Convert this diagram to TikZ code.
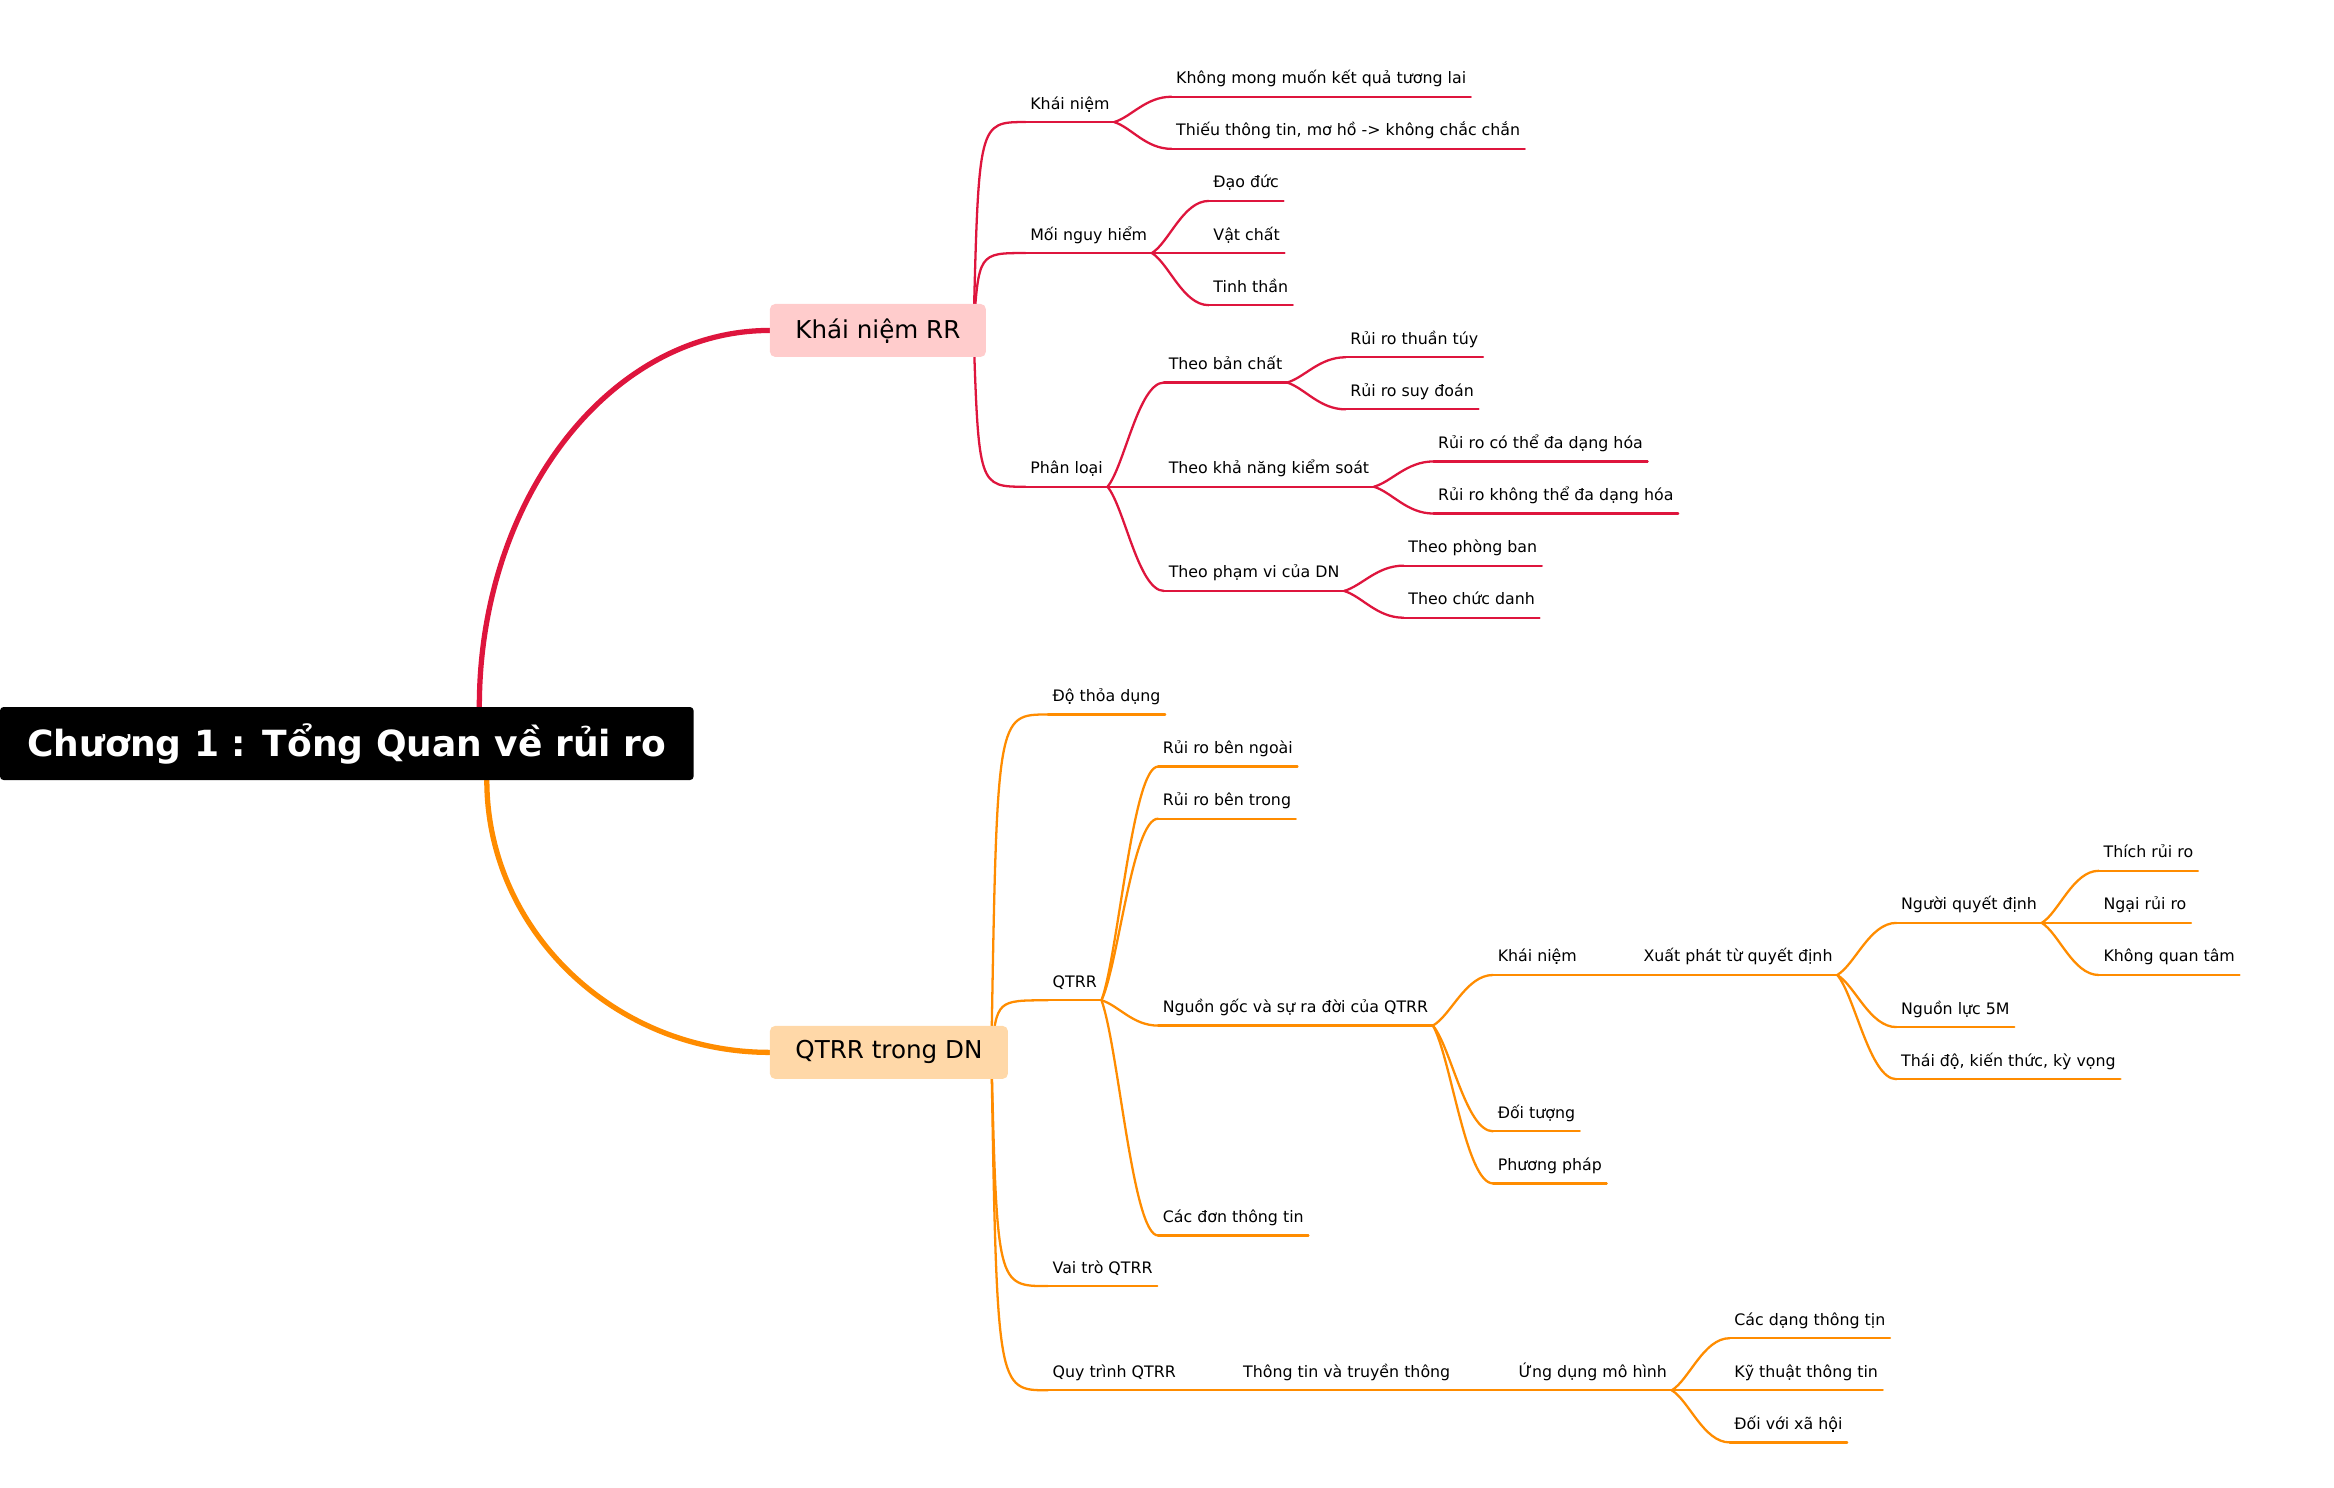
\documentclass[tikz,border=0pt]{standalone}
\usepackage{fontspec}
\setmainfont{DejaVu Sans}
\usetikzlibrary{calc, backgrounds}

\definecolor{rrred}{RGB}{222,21,61}
\definecolor{qtorange}{RGB}{255,140,0}
\definecolor{rrfill}{RGB}{255,204,204}
\definecolor{qtfill}{RGB}{255,216,168}

\begin{document}
\begin{tikzpicture}[
  x=0.02977cm, y=-0.02977cm,
  % central topic
  rootbox/.style={rectangle, rounded corners=2pt, fill=black, text=white,
                  font=\fontsize{20.5}{24}\selectfont\bfseries,
                  minimum width=13.87cm, minimum height=1.46cm},
  % main branches (filled boxes)
  mainbox/.style={rectangle, rounded corners=3pt, fill=#1, inner xsep=14.5pt,
                  minimum height=1.06cm, font=\fontsize{14}{17}\selectfont,
                  anchor=west},
  % sub topics: text sitting on an underline
  topic/.style={anchor=south west, inner xsep=2.5pt, inner ysep=4.7pt,
                text height=9pt, text depth=2.5pt,
                font=\fontsize{9}{11}\selectfont,
                append after command={(\tikzlastnode.south west)
                  edge[draw=#1, line width=1.3pt, line cap=round]
                  (\tikzlastnode.south east)}},
  rt/.style={topic=rrred},
  ot/.style={topic=qtorange},
  trunk/.style={line width=3pt, line cap=round},
  twig/.style={line width=1.3pt, line cap=round},
  % from a box: rises straight, then turns flat
  knee/.style={to path={let \p1=(\tikztostart), \p2=(\tikztotarget) in
               .. controls ({\x1+#1*(\x2-\x1)},\y2) .. (\tikztotarget)}},
  knee/.default=0.1,
  % from a junction: soft S into the underline
  scurve/.style={to path={let \p1=(\tikztostart), \p2=(\tikztotarget) in
               .. controls ({\x1+0.3*(\x2-\x1)},{\y1+0.2*(\y2-\y1)})
               and ({\x2-0.45*(\x2-\x1)},\y2) .. (\tikztotarget)}}
]
\useasboundingbox (0,0) rectangle (1568,999);

%% ── Central topic ───────────────────────────────────────────
\node[rootbox] (root) at (233,499.5) {Chương 1 : Tổng Quan về rủi ro};

%% ── Main branches ───────────────────────────────────────────
\node[mainbox=rrfill] (rr) at (517,222) {Khái niệm RR};
\node[mainbox=qtfill] (qt) at (517,707) {QTRR trong DN};
\coordinate (rr-o) at (654,222);
\coordinate (qt-o) at (666,707);

%% ── Khái niệm RR ────────────────────────────────────────────
\node[rt] (kn)  at (689,82)  {Khái niệm};
\node[rt] (kn1) at (787,65)  {Không mong muốn kết quả tương lai};
\node[rt] (kn2) at (787,100) {Thiếu thông tin, mơ hồ -> không chắc chắn};

\node[rt] (mnh) at (689,170) {Mối nguy hiểm};
\node[rt] (dd)  at (812,135) {Đạo đức};
\node[rt] (vc)  at (812,170) {Vật chất};
\node[rt] (tt)  at (812,205) {Tinh thần};

\node[rt] (pl)  at (689,327) {Phân loại};
\node[rt] (tbc) at (782,257) {Theo bản chất};
\node[rt] (rtt) at (904,240) {Rủi ro thuần túy};
\node[rt] (rsd) at (904,275) {Rủi ro suy đoán};
\node[rt] (tkn) at (782,327) {Theo khả năng kiểm soát};
\node[rt] (rcd) at (963,310) {Rủi ro có thể đa dạng hóa};
\node[rt] (rkd) at (963,345) {Rủi ro không thể đa dạng hóa};
\node[rt] (tpv) at (782,397) {Theo phạm vi của DN};
\node[rt] (tpb) at (943,380) {Theo phòng ban};
\node[rt] (tcd) at (943,415) {Theo chức danh};

%% ── QTRR trong DN ───────────────────────────────────────────
\node[ot] (dtd)  at (704,480)  {Độ thỏa dụng};
\node[ot] (qtrr) at (704,672)  {QTRR};
\node[ot] (rbn)  at (778,515)  {Rủi ro bên ngoài};
\node[ot] (rbt)  at (778,550)  {Rủi ro bên trong};
\node[ot] (ngsr) at (778,689)  {Nguồn gốc và sự ra đời của QTRR};
\node[ot] (kn3)  at (1003,655) {Khái niệm};
\node[ot] (xp)   at (1101,655) {Xuất phát từ quyết định};
\node[ot] (nqd)  at (1274,620) {Người quyết định};
\node[ot] (thr)  at (1410,585) {Thích rủi ro};
\node[ot] (ngr)  at (1410,620) {Ngại rủi ro};
\node[ot] (kqt)  at (1410,655) {Không quan tâm};
\node[ot] (nl)   at (1274,690) {Nguồn lực 5M};
\node[ot] (tdo)  at (1274,725) {Thái độ, kiến thức, kỳ vọng};
\node[ot] (dtg)  at (1003,760) {Đối tượng};
\node[ot] (ppp)  at (1003,795) {Phương pháp};
\node[ot] (cdt)  at (778,830)  {Các đơn thông tin};
\node[ot] (vtr)  at (704,864)  {Vai trò QTRR};
\node[ot] (qtr)  at (704,934)  {Quy trình QTRR};
\node[ot] (ttt)  at (832,934)  {Thông tin và truyền thông};
\node[ot] (udm)  at (1017,934) {Ứng dụng mô hình};
\node[ot] (cdtt) at (1162,899) {Các dạng thông tịn};
\node[ot] (ktt)  at (1162,934) {Kỹ thuật thông tin};
\node[ot] (dxh)  at (1162,969) {Đối với xã hội};

%% ── Connectors (behind the boxes) ───────────────────────────
\begin{scope}[on background layer]
% root -> main branches
\draw[trunk, rrred]    ([xshift=2.65cm]root.north)
      .. controls +(0,-140) and +(-107,0) .. (rr.west);
\draw[trunk, qtorange] ([xshift=2.80cm]root.south)
      .. controls +(0,100) and +(-105,0) .. (qt.west);

% red side
\draw[twig, rrred] (rr-o) to[knee] (kn.south west);
\draw[twig, rrred] (rr-o) to[knee] (mnh.south west);
\draw[twig, rrred] (rr-o) to[knee] (pl.south west);
\draw[twig, rrred] (kn.south east)  to[scurve] (kn1.south west);
\draw[twig, rrred] (kn.south east)  to[scurve] (kn2.south west);
\draw[twig, rrred] (mnh.south east) to[scurve] (dd.south west);
\draw[twig, rrred] (mnh.south east) -- (vc.south west);
\draw[twig, rrred] (mnh.south east) to[scurve] (tt.south west);
\draw[twig, rrred] (pl.south east)  to[scurve] (tbc.south west);
\draw[twig, rrred] (pl.south east)  -- (tkn.south west);
\draw[twig, rrred] (pl.south east)  to[scurve] (tpv.south west);
\draw[twig, rrred] (tbc.south east) to[scurve] (rtt.south west);
\draw[twig, rrred] (tbc.south east) to[scurve] (rsd.south west);
\draw[twig, rrred] (tkn.south east) to[scurve] (rcd.south west);
\draw[twig, rrred] (tkn.south east) to[scurve] (rkd.south west);
\draw[twig, rrred] (tpv.south east) to[scurve] (tpb.south west);
\draw[twig, rrred] (tpv.south east) to[scurve] (tcd.south west);

% orange side
\draw[twig, qtorange] (qt-o) to[knee] (dtd.south west);
\draw[twig, qtorange] (qt-o) to[knee] (qtrr.south west);
\draw[twig, qtorange] (qt-o) to[knee] (vtr.south west);
\draw[twig, qtorange] (qt-o) to[knee] (qtr.south west);
\draw[twig, qtorange] (qtrr.south east) to[scurve] (rbn.south west);
\draw[twig, qtorange] (qtrr.south east) to[scurve] (rbt.south west);
\draw[twig, qtorange] (qtrr.south east) to[scurve] (ngsr.south west);
\draw[twig, qtorange] (qtrr.south east) to[scurve] (cdt.south west);
\draw[twig, qtorange] (ngsr.south east) to[scurve] (kn3.south west);
\draw[twig, qtorange] (ngsr.south east) to[scurve] (dtg.south west);
\draw[twig, qtorange] (ngsr.south east) to[scurve] (ppp.south west);
\draw[twig, qtorange] (kn3.south east) -- (xp.south west);
\draw[twig, qtorange] (xp.south east)  to[scurve] (nqd.south west);
\draw[twig, qtorange] (xp.south east)  to[scurve] (nl.south west);
\draw[twig, qtorange] (xp.south east)  to[scurve] (tdo.south west);
\draw[twig, qtorange] (nqd.south east) to[scurve] (thr.south west);
\draw[twig, qtorange] (nqd.south east) -- (ngr.south west);
\draw[twig, qtorange] (nqd.south east) to[scurve] (kqt.south west);
\draw[twig, qtorange] (qtr.south east) -- (ttt.south west);
\draw[twig, qtorange] (ttt.south east) -- (udm.south west);
\draw[twig, qtorange] (udm.south east) to[scurve] (cdtt.south west);
\draw[twig, qtorange] (udm.south east) -- (ktt.south west);
\draw[twig, qtorange] (udm.south east) to[scurve] (dxh.south west);
\end{scope}

\end{tikzpicture}
\end{document}
